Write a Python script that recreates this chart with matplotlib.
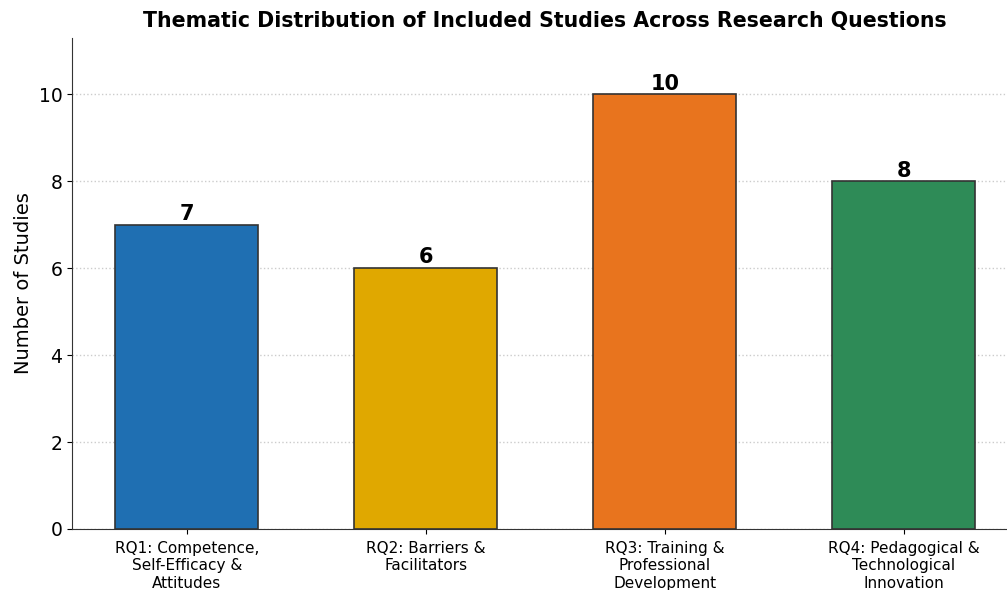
import matplotlib
matplotlib.use('Agg')
import matplotlib.pyplot as plt
import numpy as np

# Data
categories = ['RQ1: Competence,\nSelf-Efficacy &\nAttitudes',
              'RQ2: Barriers &\nFacilitators',
              'RQ3: Training &\nProfessional\nDevelopment',
              'RQ4: Pedagogical &\nTechnological\nInnovation']
counts = [7, 6, 10, 8]
colors = ['#1f6fb2', '#e0a800', '#e8741e', '#2e8b57']

fig = plt.figure(figsize=(10.07, 5.9), dpi=100)
ax = fig.add_axes([72 / 1007, 61 / 590, 946.4 / 1007, 491 / 590])

x = np.arange(len(categories))
bars = ax.bar(x, counts, width=0.6, color=colors, edgecolor='#333333', linewidth=1.2, zorder=3)

# Value labels on top of bars
for xi, v in zip(x, counts):
    ax.text(xi, v + 0.02, str(v), ha='center', va='bottom', fontsize=15, fontweight='bold')

ax.set_xticks(x)
ax.set_xticklabels(categories, fontsize=11)
ax.tick_params(axis='x', pad=5)
ax.set_ylim(0, max(counts) * 1.13)
ax.set_ylabel('Number of Studies', fontsize=14)
ax.tick_params(axis='y', labelsize=13.5)
ax.set_title('Thematic Distribution of Included Studies Across Research Questions',
             fontsize=14.8, fontweight='bold', pad=8)

ax.grid(axis='y', linestyle=':', color='#cccccc', linewidth=1, zorder=0)
ax.spines['top'].set_visible(False)
ax.spines['right'].set_visible(False)
ax.spines['left'].set_color('#333333')
ax.spines['bottom'].set_color('#333333')

plt.savefig('out.png', dpi=100)
